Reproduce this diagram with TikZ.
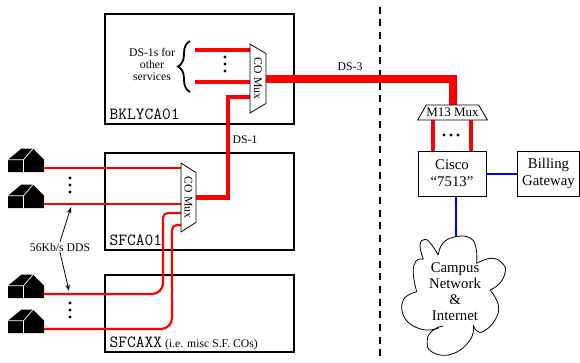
\documentclass[tikz,border=0pt]{standalone}
\usepackage{fontspec}
\setmainfont{Liberation Serif}
\usetikzlibrary{shapes.geometric,decorations.pathreplacing,arrows.meta}
\begin{document}
\begin{tikzpicture}[x=1pt,y=-1pt,>={Stealth[length=6.5pt,width=4.5pt]}]
        \tikzstyle{site}=[rectangle, draw=black, line width=2pt, inner sep=0pt]
        \tikzstyle{box}=[rectangle, draw=black, line width=0.8pt, inner sep=0pt, align=center, font=\fontsize{14.8}{17}\selectfont]
        \tikzstyle{mux}=[trapezium, trapezium stretches=true, trapezium left angle=45, trapezium right angle=45, draw=black, fill=white, line width=0.8pt, inner sep=0pt]
        \tikzstyle{lbl}=[inner sep=1pt, font=\fontsize{11.7}{12}\selectfont, align=center]
        \tikzstyle{sitelbl}=[inner sep=0pt, anchor=base west, font=\fontsize{17}{17}\ttfamily]
        \tikzstyle{cloudlbl}=[inner sep=0pt, align=center, font=\fontsize{14.8}{16}\selectfont]
        \tikzstyle{cloudline}=[black, line width=0.8pt]
        \tikzstyle{ds3}=[red, line width=8pt]
        \tikzstyle{ds1}=[red, line width=4.2pt]
        \tikzstyle{dds}=[red, line width=2.2pt]
        \tikzstyle{lan}=[blue, line width=2pt]
        \tikzset{house/.pic={
            \fill[black] (0,0) -- (0,-12.3) -- (13.3,-23.3) -- (25,-23.3) -- (36,-12.3) -- (36,0) -- cycle;
            \draw[white, line width=0.7pt] (0,-12.3) -- (15.5,-12.3) -- (25,-23.3);
            \draw[white, line width=0.7pt] (15.5,-12.3) -- (15.5,0);
            \coordinate (-port) at (36,-4);
        }}
        \useasboundingbox (0,0) rectangle (580,362);

        % Nodes
        \node[site, minimum width=189pt, minimum height=110pt] (bklyca) at (199.5,69) {};
        \node[site, minimum width=189pt, minimum height=97pt] (sfca) at (199.5,201.5) {};
        \node[site, minimum width=189pt, minimum height=77pt] (sfcaxx) at (199.5,313.5) {};

        \node[sitelbl] (bklycalbl) at (109.5,119) {BKLYCA01};
        \node[sitelbl] (sfcalbl) at (109.5,245.5) {SFCA01};
        \node[sitelbl] (sfcaxxlbl) at (109.5,347) {SFCAXX{\rmfamily\fontsize{11.7}{12}\selectfont{} (i.e. misc S.F. COs)}};

        \node[box, minimum width=68pt, minimum height=45pt] (cisco) at (452,173.5) {Cisco\\“7513”};
        \node[box, minimum width=62pt, minimum height=45pt] (billing) at (548.5,173.5) {Billing\\Gateway};

        \node[lbl] (otherlbl) at (152,64) {DS-1s for\\other\\services};
        \node[lbl] (dsthree) at (350,67) {DS-3};
        \node[lbl] (dsone) at (245,140) {DS-1};
        \node[lbl] (ddslbl) at (60,247) {56Kb/s DDS};
        \node[cloudlbl] (campus) at (455,292) {Campus\\Network\\\&\\Internet};

        \pic (ha) at (8,172) {house};
        \pic (hb) at (8,208) {house};
        \pic (hc) at (8,298) {house};
        \pic (hd) at (8,333) {house};

        \coordinate (trunkend) at (228,97);
        \coordinate (ddsc) at (163,213);
        \coordinate (ddsd) at (172,225);
        \coordinate (arrowup) at (71,207);
        \coordinate (arrowdown) at (69,291);
        \coordinate (linea) at (195,50);
        \coordinate (lineb) at (195,82);
        \coordinate (lineleft) at (433,120);
        \coordinate (lineright) at (471,120);
        \coordinate (divtop) at (380,6.5);
        \coordinate (divbot) at (380,362);
        \coordinate (cloudtop) at (456,236.7);

        % Boundary
        \draw[black, line width=2pt, dash pattern=on 7pt off 5.7pt] (divtop) -- (divbot);

        % Edges, with the muxes drawn over their ends
        \coordinate (muxatip) at (266,78.5);
        \coordinate (muxaback) at (250,78.5);
        \coordinate (muxbtip) at (196,197.5);
        \coordinate (muxbback) at (181,197.5);
        \coordinate (mthreetop) at (452.5,105);

        \draw[ds3] (muxatip) -- (muxatip -| mthreetop) -- (mthreetop);
        \draw[ds1] (linea) -- (linea -| muxaback);
        \draw[ds1] (lineb) -- (lineb -| muxaback);
        \draw[ds1] (trunkend -| muxaback) -- (trunkend) -- (trunkend |- muxbtip) -- (muxbtip);
        \draw[ds1] (lineleft) -- (lineleft |- cisco.north);
        \draw[ds1] (lineright) -- (lineright |- cisco.north);

        \draw[dds] (ha-port) -- (ha-port -| muxbback);
        \draw[dds] (hb-port) -- (hb-port -| muxbback);
        \draw[dds] (hc-port) [rounded corners=11pt] -- (hc-port -| ddsc) [rounded corners=5pt] -- (ddsc) -- (ddsc -| muxbback);
        \draw[dds] (hd-port) [rounded corners=11pt] -- (hd-port -| ddsd) [rounded corners=5pt] -- (ddsd) -- (ddsd -| muxbback);

        \draw[lan] (cisco.east) -- (billing.west);
        \draw[lan] (cloudtop |- cisco.south) -- (cloudtop);

        \draw[->, line width=0.8pt] (ddslbl.north) -- (arrowup);
        \draw[->, line width=0.8pt] (ddslbl.south) -- (arrowdown);

        % Muxes
        \node[mux, rotate=-90, minimum width=69pt, minimum height=16pt, font=\fontsize{11.7}{12}\selectfont] (muxa) at (258,78.5) {CO Mux};
        \node[mux, rotate=-90, minimum width=69pt, minimum height=15pt, font=\fontsize{11.7}{12}\selectfont] (muxb) at (188.5,197.5) {CO Mux};
        \node[mux, minimum width=69pt, minimum height=15pt, font=\fontsize{13}{13}\selectfont] (mthree) at (452.5,112.5) {M13 Mux};

        % Dots
        \foreach \y in {57,64,71} \fill (225,\y) circle (1.6);
        \foreach \y in {178,185,192,303,310,317} \fill (70,\y) circle (1.6);
        \foreach \x in {444,451,458} \fill (\x,135) circle (1.6);

        % Brace
        \draw[line width=1.8pt, decorate, decoration={brace, amplitude=12pt, aspect=0.5}] (190,92) -- (190,41);

        % Cloud
        \draw[cloudline] plot[smooth, tension=0.8] coordinates {(438.3,255) (443,243) (456,236.7) (470,238) (476,248) (476.7,263.3)};
        \draw[cloudline] plot[smooth, tension=0.8] coordinates {(476.7,263.3) (491.7,258.3) (503,264) (505,273) (499,284) (490,290)};
        \draw[cloudline] plot[smooth, tension=0.8] coordinates {(490,290) (498.3,305) (495,320) (484,331) (477,331) (473.3,325)};
        \draw[cloudline] plot[smooth, tension=0.8] coordinates {(473.3,325) (470,340) (452,354) (432,352) (427.3,340) (433.3,330) (443.3,326)};
        \draw[cloudline] plot[smooth, tension=0.8] coordinates {(438.3,328.3) (421.7,329.3) (405,318.3) (403.3,300) (416.7,291.7)};
        \draw[cloudline] plot[smooth, tension=0.8] coordinates {(416.7,291.7) (413.3,273.3) (416,261) (423.3,259.3)};
        \draw[cloudline] plot[smooth, tension=0.8] coordinates {(423.3,259.3) (420,245) (425,239.3) (431,244) (438.3,255)};

    \end{tikzpicture}
\end{document}
